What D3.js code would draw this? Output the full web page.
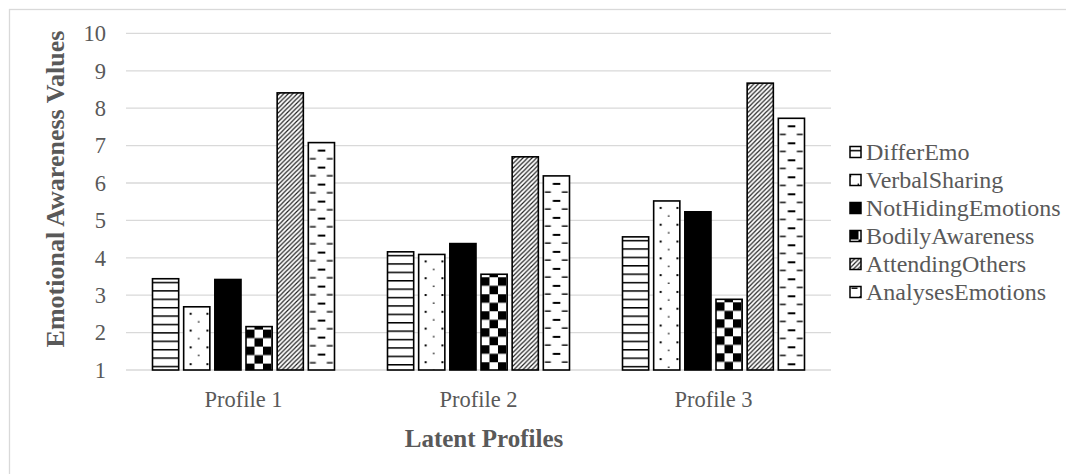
<!DOCTYPE html>
<html lang="en">
<head>
<meta charset="UTF-8">
<title>Emotional Awareness by Latent Profile</title>
<script src="https://d3js.org/d3.v7.min.js"></script>
<style>
    body { margin: 0; background: #fff; }
    svg { display: block; }
    text { font-family: "Liberation Serif", "Times New Roman", serif; fill: #595959; }
</style>
</head>
<body>
<svg id="chart" width="1066" height="474"></svg>
<script>
// values
const profiles = ["Profile 1", "Profile 2", "Profile 3"];
const seriesNames = ["DifferEmo", "VerbalSharing", "NotHidingEmotions", "BodilyAwareness", "AttendingOthers", "AnalysesEmotions"];
const differEmo = [3.44, 4.16, 4.56];
const verbalSharing = [2.69, 4.09, 5.52];
const notHidingEmotions = [3.42, 4.38, 5.23];
const bodilyAwareness = [2.16, 3.56, 2.89];
const attendingOthers = [8.41, 6.70, 8.67];
const analysesEmotions = [7.08, 6.19, 7.73];
const yTicks = [1, 2, 3, 4, 5, 6, 7, 8, 9, 10];

const seriesValues = [differEmo, verbalSharing, notHidingEmotions, bodilyAwareness, attendingOthers, analysesEmotions];

const svg = d3.select("#chart");
const defs = svg.append("defs");

// outer chart frame
svg.append("rect")
    .attr("x", 9.5).attr("y", 9.5)
    .attr("width", 1070).attr("height", 480)
    .attr("fill", "none").attr("stroke", "#d9d9d9").attr("stroke-width", 1.3);

const x0 = d3.scaleBand().domain(profiles).range([126, 831]);
const x1 = d3.scaleBand().domain(seriesNames)
    .range([26.5, x0.bandwidth() - 26.5])
    .paddingInner(0.16);
const y = d3.scaleLinear().domain([1, 10]).range([370, 33.4]);

// pattern builders, one per bar so the texture lines up with its bar
function makePattern(id, kind, ox, oy) {
    const p = defs.append("pattern")
        .attr("id", id)
        .attr("patternUnits", "userSpaceOnUse")
        .attr("x", ox).attr("y", oy);
    if (kind === 0) { // horizontal lines
        p.attr("width", 10).attr("height", 8.4);
        p.append("rect").attr("width", 10).attr("height", 8.4).attr("fill", "#fff");
        p.append("rect").attr("y", 0).attr("width", 10).attr("height", 1.5).attr("fill", "#000");
    } else if (kind === 1) { // sparse dots
        p.attr("width", 16.8).attr("height", 16.8);
        p.append("rect").attr("width", 16.8).attr("height", 16.8).attr("fill", "#fff");
        p.append("rect").attr("x", 6).attr("y", 3).attr("width", 2).attr("height", 2).attr("fill", "#000");
        p.append("rect").attr("x", 14.4).attr("y", 11.4).attr("width", 1.4).attr("height", 1.4).attr("fill", "#000");
    } else if (kind === 2) { // solid
        p.attr("width", 4).attr("height", 4);
        p.append("rect").attr("width", 4).attr("height", 4).attr("fill", "#000");
    } else if (kind === 3) { // large checkerboard
        p.attr("width", 17).attr("height", 17);
        p.append("rect").attr("width", 17).attr("height", 17).attr("fill", "#fff");
        p.append("rect").attr("x", 0).attr("y", 0).attr("width", 8.5).attr("height", 8.5).attr("fill", "#000");
        p.append("rect").attr("x", 8.5).attr("y", 8.5).attr("width", 8.5).attr("height", 8.5).attr("fill", "#000");
    } else if (kind === 4) { // upward diagonal hatch
        p.attr("width", 4.5).attr("height", 4.5);
        p.append("rect").attr("width", 4.5).attr("height", 4.5).attr("fill", "#fff");
        p.append("path").attr("d", "M-1,5.5 L5.5,-1 M-1,1 L1,-1 M3.5,5.5 L5.5,3.5")
            .attr("stroke", "#222").attr("stroke-width", 1.2);
    } else { // dashed horizontal
        p.attr("width", 17).attr("height", 17);
        p.append("rect").attr("width", 17).attr("height", 17).attr("fill", "#fff");
        p.append("rect").attr("x", 9.5).attr("y", 4).attr("width", 8.5).attr("height", 2).attr("fill", "#000");
        p.append("rect").attr("x", 1.5).attr("y", 12.5).attr("width", 6).attr("height", 1.4).attr("fill", "#000");
    }
    return `url(#${id})`;
}

// gridlines
svg.append("g")
    .selectAll("line")
    .data(yTicks)
    .join("line")
    .attr("x1", 126).attr("x2", 831)
    .attr("y1", d => y(d)).attr("y2", d => y(d))
    .attr("stroke", "#d9d9d9")
    .attr("stroke-width", 1.3);

// y tick labels
svg.append("g")
    .selectAll("text")
    .data(yTicks)
    .join("text")
    .attr("x", 106)
    .attr("y", d => y(d))
    .attr("dy", "0.35em")
    .attr("text-anchor", "end")
    .attr("font-size", 22.5)
    .text(d => d);

// bars
const rows = [];
profiles.forEach((p, gi) => {
    seriesNames.forEach((s, si) => {
        rows.push({ profile: p, series: s, si: si, gi: gi, value: seriesValues[si][gi] });
    });
});

svg.append("g")
    .selectAll("rect")
    .data(rows)
    .join("rect")
    .attr("x", d => x0(d.profile) + x1(d.series))
    .attr("y", d => y(d.value))
    .attr("width", x1.bandwidth())
    .attr("height", d => y(1) - y(d.value))
    .attr("fill", d => makePattern(`pat-${d.si}-${d.gi}`, d.si, x0(d.profile) + x1(d.series), y(d.value) + 3))
    .attr("stroke", "#000")
    .attr("stroke-width", 1.6);

// category labels
svg.append("g")
    .selectAll("text")
    .data(profiles)
    .join("text")
    .attr("x", d => x0(d) + x0.bandwidth() / 2)
    .attr("y", 399)
    .attr("dy", "0.35em")
    .attr("text-anchor", "middle")
    .attr("font-size", 22.5)
    .text(d => d);

// axis titles
svg.append("text")
    .attr("x", 484)
    .attr("y", 438)
    .attr("dy", "0.35em")
    .attr("text-anchor", "middle")
    .attr("font-size", 25)
    .attr("font-weight", "bold")
    .text("Latent Profiles");

svg.append("text")
    .attr("transform", "translate(55,189) rotate(-90)")
    .attr("dy", "0.35em")
    .attr("text-anchor", "middle")
    .attr("font-size", 26)
    .attr("font-weight", "bold")
    .text("Emotional Awareness Values");

// legend
const legend = svg.append("g")
    .selectAll("g")
    .data(seriesNames)
    .join("g")
    .attr("transform", (d, i) => `translate(850,${152 + i * 28})`);

legend.append("rect")
    .attr("x", 0).attr("y", -5.5)
    .attr("width", 11).attr("height", 11)
    .attr("fill", (d, i) => makePattern(`leg-${i}`, i, 850, 152 + i * 28 - 3))
    .attr("stroke", "#000")
    .attr("stroke-width", 1.5);

legend.append("text")
    .attr("x", 16)
    .attr("y", 0)
    .attr("dy", "0.35em")
    .attr("font-size", 24)
    .text(d => d);
</script>
</body>
</html>
